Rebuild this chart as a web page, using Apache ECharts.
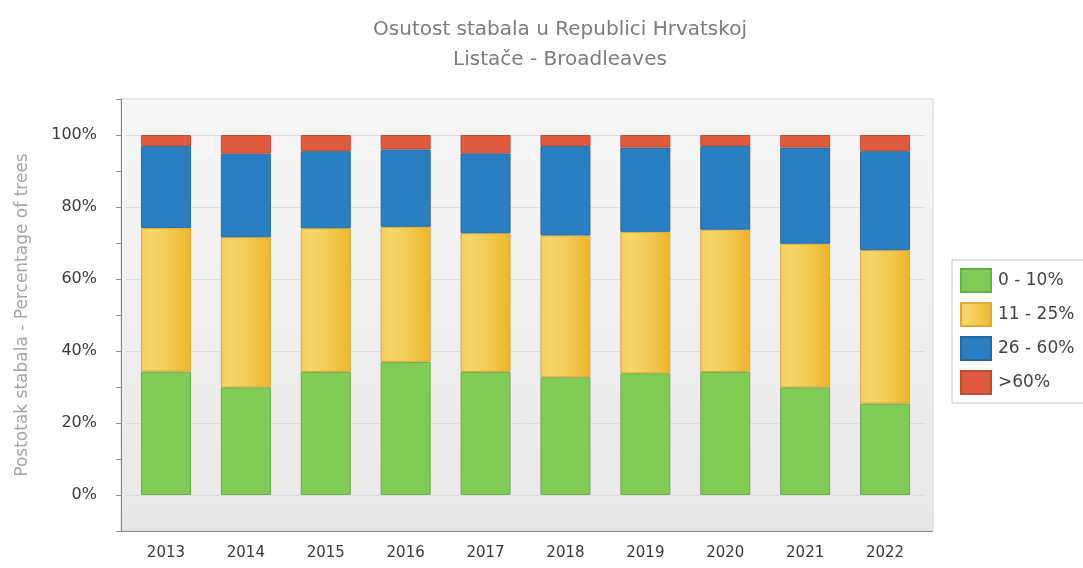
<!DOCTYPE html>
<html>
<head>
<meta charset="utf-8">
<script src="https://cdn.jsdelivr.net/npm/echarts@6/dist/echarts.min.js"></script>
<style>
  html, body { margin: 0; padding: 0; background: #fff; }
  #chart { width: 1083px; height: 568px; }
</style>
</head>
<body>
<div id="chart"></div>
<script>
// Crown defoliation of broadleaved trees in Croatia, share of trees per class (%)
const years = ['2013', '2014', '2015', '2016', '2017', '2018', '2019', '2020', '2021', '2022'];
const class0to10 = [34.3, 29.9, 34.2, 37.0, 34.2, 32.7, 33.8, 34.2, 29.9, 25.4];
const class11to25 = [39.9, 41.7, 39.9, 37.5, 38.5, 39.4, 39.3, 39.5, 39.9, 42.6];
const class26to60 = [22.7, 23.2, 21.4, 21.5, 22.2, 24.8, 23.4, 23.2, 26.7, 27.5];
const classOver60 = [3.1, 5.2, 4.5, 4.0, 5.1, 3.1, 3.5, 3.1, 3.5, 4.5];
const seriesNames = ['0 - 10%', '11 - 25%', '26 - 60%', '>60%'];
const yTickValues = [0, 20, 40, 60, 80, 100];

const FONT = 'DejaVu Sans';
const chart = echarts.init(document.getElementById('chart'), null, { renderer: 'canvas' });

const yellowFill = new echarts.graphic.LinearGradient(0, 0, 1, 0, [
  { offset: 0, color: '#f2cd5a' },
  { offset: 0.2, color: '#f6d76c' },
  { offset: 0.65, color: '#f2c64a' },
  { offset: 1, color: '#eeb42c' }
]);

function barSeries(name, data, fill, border) {
  return {
    name: name,
    type: 'bar',
    stack: 'total',
    data: data,
    barWidth: 50,
    itemStyle: { color: fill, borderColor: border, borderWidth: 1 },
    emphasis: { disabled: true }
  };
}

// plot panel (slightly wider than the category band)
const panel = { x: 121, y: 99, width: 812, height: 432 };

chart.setOption({
  animation: false,
  textStyle: { fontFamily: FONT },
  title: {
    text: 'Osutost stabala u Republici Hrvatskoj\nListače - Broadleaves',
    left: 555,
    top: 10,
    textAlign: 'center',
    textStyle: {
      fontFamily: FONT,
      fontSize: 20,
      fontWeight: 'normal',
      color: '#7c7c7c',
      lineHeight: 30
    }
  },
  graphic: [{
    type: 'rect',
    z: -10,
    silent: true,
    shape: panel,
    style: {
      fill: new echarts.graphic.LinearGradient(0, 0, 0, 1, [
        { offset: 0, color: '#f7f7f7' },
        { offset: 1, color: '#e8e8e8' }
      ]),
      stroke: '#d4d4d4',
      lineWidth: 1
    }
  }, {
    type: 'line',
    z: 5,
    silent: true,
    shape: { x1: panel.x, y1: panel.y + panel.height + 0.5, x2: panel.x + panel.width, y2: panel.y + panel.height + 0.5 },
    style: { stroke: '#8a8a8a', lineWidth: 1 }
  }],
  legend: {
    orient: 'vertical',
    left: 952,
    top: 260,
    padding: [8, 30, 8, 8],
    icon: 'rect',
    itemWidth: 30,
    itemHeight: 23,
    itemGap: 9,
    borderColor: '#c8c8c8',
    borderWidth: 1,
    backgroundColor: '#ffffff',
    selectedMode: false,
    data: seriesNames,
    textStyle: { fontSize: 17, color: '#444', fontFamily: FONT, padding: [0, 0, 0, 2] }
  },
  grid: {
    left: 126,
    top: 99,
    right: 158,
    bottom: 37,
    show: false
  },
  xAxis: {
    type: 'category',
    data: years,
    axisLine: { show: false, onZero: false },
    axisTick: { alignWithLabel: true, length: 6, lineStyle: { color: '#8a8a8a' } },
    axisLabel: { fontSize: 15, color: '#3a3a3a', margin: 15, fontFamily: FONT }
  },
  yAxis: {
    type: 'value',
    min: -10,
    max: 110,
    interval: 10,
    offset: 5,
    name: 'Postotak stabala - Percentage of trees',
    nameLocation: 'middle',
    nameGap: 90,
    nameTextStyle: { fontSize: 17, color: '#a5a5a5', fontFamily: FONT },
    axisLine: { show: true, lineStyle: { color: '#8a8a8a', width: 1 } },
    axisTick: { show: true, length: 5, lineStyle: { color: '#8a8a8a' } },
    axisLabel: {
      fontSize: 16,
      color: '#3a3a3a',
      margin: 24,
      fontFamily: FONT,
      formatter: function (v) {
        return yTickValues.indexOf(v) >= 0 ? v + '%' : '';
      }
    },
    splitLine: {
      show: true,
      lineStyle: { color: ['transparent', '#dcdcdc'], width: 1 }
    }
  },
  series: [
    barSeries(seriesNames[0], class0to10, '#80cb55', '#6aac44'),
    barSeries(seriesNames[1], class11to25, yellowFill, '#d9a93a'),
    barSeries(seriesNames[2], class26to60, '#2a7fc2', '#236aa3'),
    barSeries(seriesNames[3], classOver60, '#e05a3d', '#c24a32')
  ]
});
</script>
</body>
</html>
